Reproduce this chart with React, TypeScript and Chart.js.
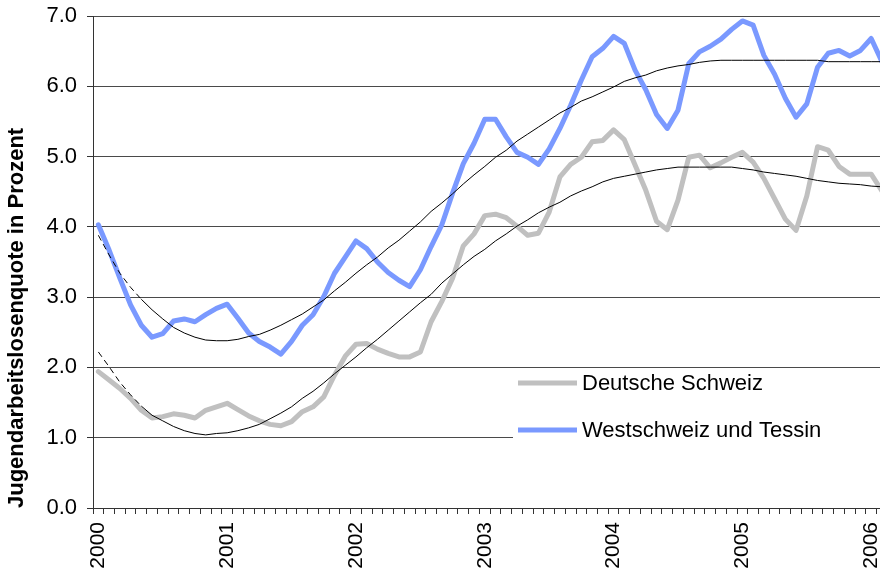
import React, { useEffect, useRef } from 'react';
import { Chart, registerables } from 'chart.js';

Chart.register(...registerables);

// Monthly categories, Jan 2000 .. Feb 2006
const months: string[] = [];
for (let y = 2000; y <= 2006; y++) {
  for (let m = 1; m <= 12; m++) {
    if (months.length < 74) months.push(`${y}-${String(m).padStart(2, '0')}`);
  }
}

const deutscheSchweiz = [
  1.94, 1.82, 1.70, 1.56, 1.39, 1.28, 1.30, 1.34, 1.32, 1.28, 1.39, 1.44,
  1.49, 1.40, 1.31, 1.24, 1.19, 1.17, 1.23, 1.37, 1.44, 1.58, 1.89, 2.16,
  2.33, 2.34, 2.26, 2.20, 2.15, 2.15, 2.22, 2.65, 2.94, 3.27, 3.73, 3.90,
  4.16, 4.18, 4.13, 4.01, 3.88, 3.91, 4.21, 4.71, 4.89, 4.99, 5.21, 5.23,
  5.38, 5.24, 4.88, 4.52, 4.08, 3.96, 4.38, 4.99, 5.02, 4.84, 4.91, 4.99,
  5.06, 4.92, 4.69, 4.40, 4.11, 3.95, 4.44, 5.14, 5.09, 4.86, 4.75, 4.75,
  4.75, 4.51,
];

const westschweizTessin = [
  4.03, 3.67, 3.27, 2.89, 2.60, 2.43, 2.48, 2.66, 2.69, 2.65, 2.75, 2.84,
  2.90, 2.70, 2.49, 2.37, 2.29, 2.19, 2.37, 2.60, 2.75, 3.01, 3.34, 3.57,
  3.80, 3.69, 3.50, 3.35, 3.24, 3.15, 3.39, 3.72, 4.03, 4.48, 4.90, 5.19,
  5.53, 5.53, 5.28, 5.06, 4.99, 4.89, 5.11, 5.40, 5.73, 6.09, 6.42, 6.54,
  6.71, 6.61, 6.23, 5.95, 5.60, 5.40, 5.66, 6.32, 6.49, 6.57, 6.67, 6.81,
  6.93, 6.87, 6.44, 6.17, 5.83, 5.56, 5.75, 6.27, 6.47, 6.51, 6.43, 6.51,
  6.68, 6.35,
];

const trendDeutsch = [
  2.22, 2.01, 1.79, 1.61, 1.45, 1.32, 1.24, 1.16, 1.10, 1.06, 1.04, 1.06,
  1.07, 1.10, 1.14, 1.19, 1.27, 1.35, 1.44, 1.56, 1.66, 1.78, 1.91, 2.03,
  2.15, 2.28, 2.40, 2.53, 2.66, 2.79, 2.92, 3.04, 3.20, 3.33, 3.46, 3.58,
  3.68, 3.80, 3.90, 4.01, 4.10, 4.20, 4.28, 4.35, 4.44, 4.51, 4.57, 4.64,
  4.69, 4.72, 4.75, 4.78, 4.81, 4.83, 4.85, 4.85, 4.85, 4.85, 4.85, 4.85,
  4.83, 4.81, 4.78, 4.76, 4.74, 4.72, 4.69, 4.66, 4.64, 4.62, 4.61, 4.60,
  4.58, 4.57,
];

const trendWest = [
  3.88, 3.60, 3.34, 3.14, 2.97, 2.82, 2.69, 2.57, 2.49, 2.43, 2.39, 2.38,
  2.38, 2.40, 2.44, 2.47, 2.53, 2.60, 2.68, 2.76, 2.86, 2.96, 3.09, 3.21,
  3.34, 3.46, 3.57, 3.70, 3.81, 3.94, 4.07, 4.22, 4.34, 4.47, 4.61, 4.74,
  4.86, 4.99, 5.09, 5.22, 5.32, 5.42, 5.52, 5.62, 5.70, 5.79, 5.85, 5.92,
  5.99, 6.07, 6.12, 6.16, 6.22, 6.26, 6.29, 6.31, 6.34, 6.36, 6.37, 6.37,
  6.37, 6.37, 6.37, 6.37, 6.37, 6.37, 6.37, 6.37, 6.35, 6.35, 6.35, 6.35,
  6.35, 6.35,
];

const FONT = '"Liberation Sans", Arial, sans-serif';

const toPoints = (arr: number[]) => arr.map((v, i) => ({ x: i, y: v }));

const boxLegend = {
  id: 'boxLegend',
  afterDatasetsDraw(chart: any) {
    const { ctx, chartArea } = chart;
    const left = chartArea.left + 420;
    const top = 371;
    ctx.save();
    ctx.fillStyle = '#ffffff';
    ctx.fillRect(left, top, chartArea.right - left, 92);
    const items = chart.data.datasets.filter((d: any) => d.showInLegend);
    items.forEach((d: any, i: number) => {
      const y = 383 + i * 47;
      ctx.strokeStyle = d.borderColor;
      ctx.lineWidth = d.borderWidth;
      ctx.lineCap = 'butt';
      ctx.beginPath();
      ctx.moveTo(left + 5, y);
      ctx.lineTo(left + 64, y);
      ctx.stroke();
      ctx.fillStyle = '#000';
      ctx.font = `22px ${FONT}`;
      ctx.textBaseline = 'middle';
      ctx.textAlign = 'left';
      ctx.fillText(d.label, left + 69, y + 1);
    });
    ctx.restore();
  },
};

export default function App() {
  const ref = useRef<HTMLCanvasElement>(null);

  useEffect(() => {
    if (!ref.current) return;
    const dashStart = (ctx: any) => (ctx.p0DataIndex < 4 ? [6, 4] : undefined);
    const chart = new Chart(ref.current, {
      type: 'line',
      data: {
        datasets: [
          {
            label: 'Trend Deutsche Schweiz',
            data: toPoints(trendDeutsch),
            borderColor: '#000000',
            borderWidth: 1,
            pointRadius: 0,
            tension: 0,
            order: 0,
            segment: { borderDash: dashStart },
          } as any,
          {
            label: 'Trend Westschweiz und Tessin',
            data: toPoints(trendWest),
            borderColor: '#000000',
            borderWidth: 1,
            pointRadius: 0,
            tension: 0,
            order: 0,
            segment: { borderDash: dashStart },
          },
          {
            label: 'Deutsche Schweiz',
            data: toPoints(deutscheSchweiz),
            borderColor: '#C0C0C0',
            borderWidth: 5,
            borderJoinStyle: 'round',
            borderCapStyle: 'round',
            pointRadius: 0,
            tension: 0,
            order: 2,
            showInLegend: true,
          },
          {
            label: 'Westschweiz und Tessin',
            data: toPoints(westschweizTessin),
            borderColor: '#7A99FF',
            borderWidth: 5,
            borderJoinStyle: 'round',
            borderCapStyle: 'round',
            pointRadius: 0,
            tension: 0,
            order: 1,
            showInLegend: true,
          },
        ],
      },
      options: {
        animation: false,
        responsive: false,
        layout: { padding: { top: 16, right: 0, bottom: 0, left: 0 } },
        plugins: {
          legend: { display: false },
          tooltip: { enabled: false },
        },
        scales: {
          x: {
            type: 'linear',
            min: -0.5,
            max: 72.82,
            afterBuildTicks: (s: any) => {
              s.ticks = months.map((_, i) => ({ value: i })).filter((t) => t.value <= 72);
            },
            afterFit: (s: any) => {
              s.height = 67;
              s.paddingLeft = 0;
              s.paddingRight = 0;
            },
            ticks: {
              autoSkip: false,
              minRotation: 90,
              maxRotation: 90,
              padding: 8,
              color: '#000',
              font: { family: FONT, size: 21 },
              callback: (v: any) => {
                const m = months[Number(v)];
                return m && m.endsWith('-01') ? m.slice(0, 4) : '';
              },
            },
            grid: {
              offset: true,
              drawOnChartArea: false,
              drawTicks: true,
              tickLength: 6,
              color: '#333',
            },
            border: { display: true, color: '#333', width: 1 },
          } as any,
          y: {
            min: 0,
            max: 7,
            afterFit: (s: any) => {
              s.width = 93;
              s.paddingTop = 0;
              s.paddingBottom = 0;
            },
            ticks: {
              stepSize: 1,
              padding: 10,
              color: '#000',
              font: { family: FONT, size: 22 },
              callback: (v: any) => Number(v).toFixed(1),
            },
            grid: {
              color: '#4a4a4a',
              lineWidth: 1,
              drawTicks: true,
              tickLength: 6,
              tickColor: '#333',
            },
            border: { display: true, color: '#333', width: 1 },
            title: {
              display: true,
              text: 'Jugendarbeitslosenquote in Prozent',
              align: 'start',
              color: '#000',
              font: { family: FONT, size: 22, weight: 'bold' },
              padding: { top: 4, bottom: 0 },
            },
          } as any,
        },
      },
      plugins: [boxLegend],
    });
    return () => chart.destroy();
  }, []);

  return (
    <div style={{ position: 'absolute', left: 0, top: 0, width: 880, height: 575, background: '#fff' }}>
      <canvas ref={ref} width={880} height={575} style={{ display: 'block' }} />
    </div>
  );
}
